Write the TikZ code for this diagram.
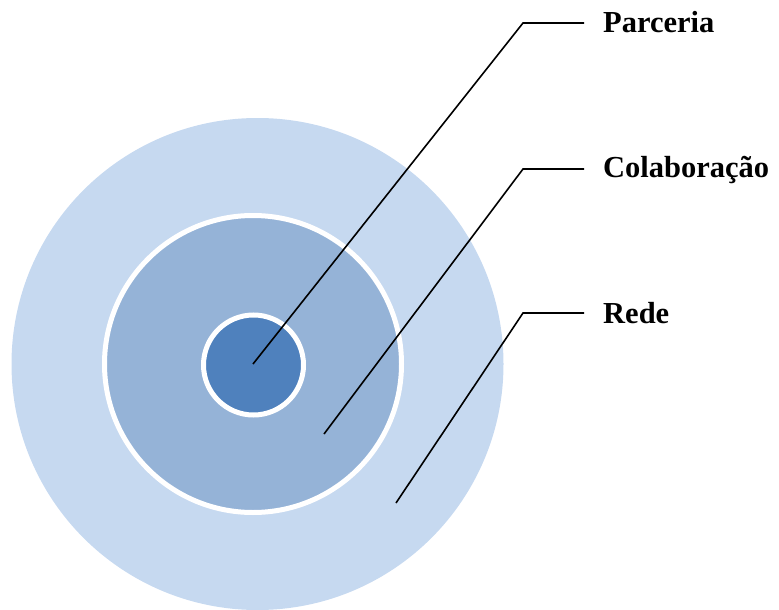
\documentclass[tikz,border=0pt]{standalone}
\usepackage{fontspec}
\setmainfont{Liberation Serif}
\definecolor{ringA}{HTML}{C6D9F0}
\definecolor{ringB}{HTML}{95B3D7}
\definecolor{ringC}{HTML}{4F81BD}
\tikzset{
  lead/.style={draw=black,line width=1.6pt},
  lbl/.style={anchor=base west,inner sep=0pt,font=\fontsize{30.5}{36}\selectfont\bfseries},
  ring/.style={draw=white,line width=5pt}
}
\begin{document}
\begin{tikzpicture}[x=1pt,y=-1pt]
\useasboundingbox (0,0) rectangle (779,610);
\begin{scope}
\clip (0,0) rectangle (779,610);
\fill[ringA] (257.5,364) circle (246);
\end{scope}
\filldraw[ring,fill=ringB] (253,364) circle (148.5);
\filldraw[ring,fill=ringC] (253.5,365) circle (50);
% leader points
\coordinate (p0) at (253,364);
\coordinate (p1) at (523,23);
\coordinate (p2) at (584,23);
\coordinate (c0) at (324,434);
\coordinate (c1) at (523,169);
\coordinate (c2) at (584,169);
\coordinate (r0) at (396,503);
\coordinate (r1) at (523,313);
\coordinate (r2) at (584,313);
\draw[lead] (p0) -- (p1) -- (p2);
\draw[lead] (c0) -- (c1) -- (c2);
\draw[lead] (r0) -- (r1) -- (r2);
\node[lbl] (tp) at (603,33) {Parceria};
\node[lbl] (tc) at (603,177) {Colaboração};
\node[lbl] (tr) at (603,323) {Rede};
\end{tikzpicture}
\end{document}
